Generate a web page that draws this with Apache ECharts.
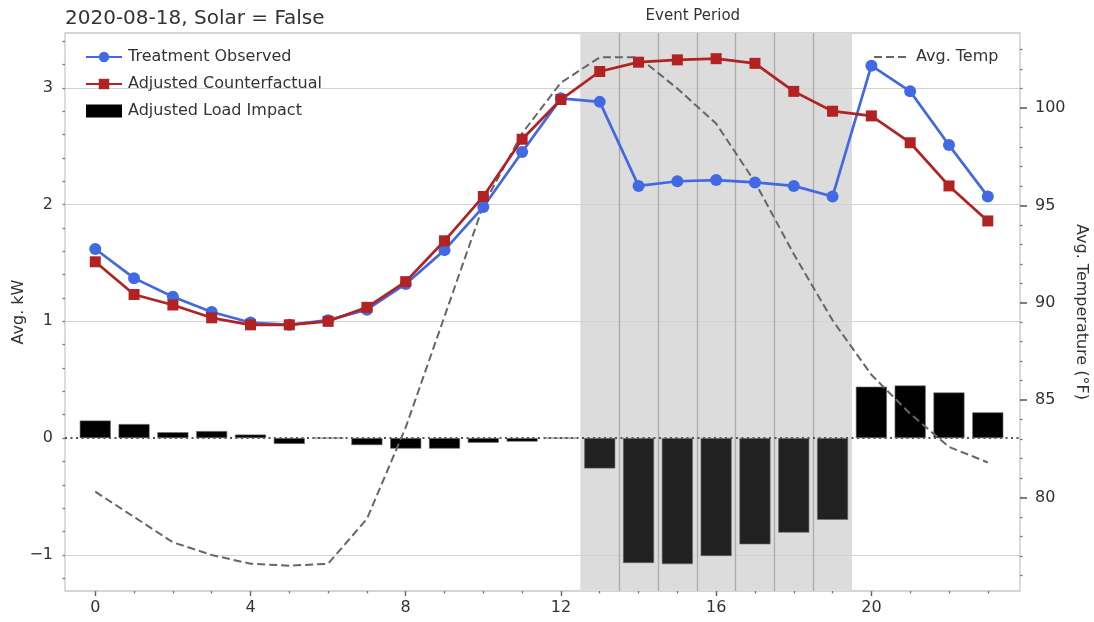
<!DOCTYPE html>
<html>
<head>
<meta charset="utf-8">
<script src="https://cdn.jsdelivr.net/npm/echarts@6.0.0/dist/echarts.min.js"></script>
<style>html,body{margin:0;padding:0;background:#fff;}#chart{width:1094px;height:622px;}</style>
</head>
<body>
<div id="chart"></div>
<script>
// ---- data ----
const hours = [0,1,2,3,4,5,6,7,8,9,10,11,12,13,14,15,16,17,18,19,20,21,22,23];
const observed = [1.62,1.37,1.21,1.08,0.99,0.97,1.01,1.10,1.32,1.61,1.98,2.45,2.91,2.88,2.16,2.20,2.21,2.19,2.16,2.07,3.19,2.97,2.51,2.07];
const counterfactual = [1.51,1.23,1.14,1.03,0.97,0.97,1.00,1.12,1.34,1.69,2.07,2.56,2.90,3.14,3.22,3.24,3.25,3.21,2.97,2.80,2.76,2.53,2.16,1.86];
const loadImpact = [0.15,0.12,0.05,0.06,0.03,-0.05,0.00,-0.06,-0.09,-0.09,-0.04,-0.03,0.00,-0.26,-1.07,-1.08,-1.01,-0.91,-0.81,-0.70,0.44,0.45,0.39,0.22];
const avgTemp = [80.3,79.0,77.7,77.05,76.6,76.5,76.6,78.9,83.6,89.3,95.0,98.7,101.3,102.6,102.6,101.0,99.2,96.2,92.5,89.1,86.3,84.3,82.6,81.8];
const xTickLabels = [0,4,8,12,16,20];
const xMinorTicks = [0,1,2,3,4,5,6,7,8,9,10,11,12,13,14,15,16,17,18,19,20,21,22,23];
const kwTicks = [-1,0,1,2,3];
const kwGridLines = [-1,1,2,3];
const kwMinorTicks = [-1.2,-1.0,-0.8,-0.6,-0.4,-0.2,0,0.2,0.4,0.6,0.8,1.0,1.2,1.4,1.6,1.8,2.0,2.2,2.4,2.6,2.8,3.0,3.2,3.4];
const tempTicks = [80,85,90,95,100];
const tempMinorTicks = [76,77,78,79,80,81,82,83,84,85,86,87,88,89,90,91,92,93,94,95,96,97,98,99,100,101,102,103];
const eventStart = 12.5, eventEnd = 19.5;
const eventDividers = [13.5,14.5,15.5,16.5,17.5,18.5];
const titleText = '2020-08-18, Solar = False';
const eventLabel = 'Event Period';
const eventLabelX = 15.4;

const FONT = 'DejaVu Sans';
const TXT = '#333';
const xMin = -0.78, xMax = 23.83;
const kwMin = -1.31, kwMax = 3.47;
const tMin = 75.2, tMax = 103.85;
const minus = v => String(v).replace('-', '\u2212');
const noLine = {show: false, onZero: false};

const chart = echarts.init(document.getElementById('chart'), null, {renderer:'canvas'});
const option = {
  animation: false,
  backgroundColor: '#fff',
  textStyle: {fontFamily: FONT},
  title: {text: titleText, left: 60, top: 4,
    textStyle: {fontFamily: FONT, fontSize: 20, fontWeight: 'normal', color: TXT}},
  grid: {left: 65, right: 74, top: 33, bottom: 31, show: true, borderColor: '#c8c8c8',
    borderWidth: 1.3, backgroundColor: 'transparent', containLabel: false, outerBoundsMode: 'none'},
  legend: [
    {data: [{name: 'Treatment Observed'}, {name: 'Adjusted Counterfactual'},
            {name: 'Adjusted Load Impact', icon: 'rect', itemStyle: {borderWidth: 0, color: '#000'}}],
     orient: 'vertical', left: 80, top: 44, itemWidth: 36, itemHeight: 13, itemGap: 11,
     selectedMode: false,
     textStyle: {fontSize: 16, color: TXT, fontFamily: FONT, padding: [0,0,0,1]}},
    {data: [{name: 'Avg. Temp'}], left: 868, top: 44, itemWidth: 34, itemHeight: 13,
     selectedMode: false, itemStyle: {opacity: 0},
     textStyle: {fontSize: 16, color: TXT, fontFamily: FONT, padding: [0,0,0,3]}}
  ],
  xAxis: [
    {type: 'value', min: xMin, max: xMax, position: 'bottom',
     axisLine: noLine, splitLine: {show: false},
     axisTick: {show: true, customValues: xTickLabels, length: 5, lineStyle: {color: '#555', width: 1.3}},
     axisLabel: {customValues: xTickLabels, fontSize: 16, color: TXT, margin: 9, fontFamily: FONT}},
    {type: 'value', min: xMin, max: xMax, position: 'bottom',
     axisLine: noLine, splitLine: {show: false}, axisLabel: {show: false},
     axisTick: {show: true, customValues: xMinorTicks, length: 2.5, lineStyle: {color: '#777', width: 1.3}}}
  ],
  yAxis: [
    {type: 'value', min: kwMin, max: kwMax, position: 'left',
     name: 'Avg. kW', nameLocation: 'middle', nameGap: 38, nameRotate: 90, nameMoveOverlap: false,
     nameTextStyle: {fontSize: 16, color: TXT, fontFamily: FONT},
     axisLine: noLine, splitLine: {show: false},
     axisTick: {show: true, customValues: kwMinorTicks, length: 2.5, lineStyle: {color: '#777', width: 1.3}},
     axisLabel: {customValues: kwTicks, formatter: minus, fontSize: 16, color: TXT, margin: 12, fontFamily: FONT}},
    {type: 'value', min: tMin, max: tMax, position: 'right',
     name: 'Avg. Temperature (°F)', nameLocation: 'middle', nameGap: 53, nameRotate: -90, nameMoveOverlap: false,
     nameTextStyle: {fontSize: 16, color: TXT, fontFamily: FONT},
     axisLine: noLine, splitLine: {show: false},
     axisTick: {show: true, customValues: tempTicks, length: 7, lineStyle: {color: '#555', width: 1.5}},
     axisLabel: {customValues: tempTicks, fontSize: 16, color: TXT, margin: 15, fontFamily: FONT}},
    {type: 'value', min: tMin, max: tMax, position: 'right',
     axisLine: noLine, splitLine: {show: false}, axisLabel: {show: false},
     axisTick: {show: true, customValues: tempMinorTicks, length: 2.5, lineStyle: {color: '#777', width: 1.3}}}
  ],
  series: [
    {name: '_frame', type: 'line', data: [], xAxisIndex: 0, yAxisIndex: 0, silent: true, z: 0,
     markArea: {silent: true, z: 0, itemStyle: {color: '#dcdcdc'},
       data: [[{xAxis: eventStart}, {xAxis: eventEnd}]]},
     markLine: {silent: true, z: 1, symbol: 'none', label: {show: false}, animation: false,
       lineStyle: {color: '#d2d2d2', width: 1.2, type: 'solid'},
       data: kwGridLines.map(v => ({yAxis: v}))
         .concat(eventDividers.map(v => ({xAxis: v, lineStyle: {color: '#ababab', width: 1.3, type: 'solid'}})))}},
    {name: 'Adjusted Load Impact', type: 'bar', xAxisIndex: 0, yAxisIndex: 0, z: 2,
     barWidth: 31,
     itemStyle: {color: '#000', borderColor: '#6a6a6a', borderWidth: 0.6},
     data: hours.map((h, i) => ({value: [h, loadImpact[i]],
       itemStyle: {color: (h > eventStart && h < eventEnd) ? '#212121' : '#000'}})),
     markLine: {silent: true, z: 3, symbol: 'none', label: {show: false}, animation: false,
       lineStyle: {color: '#555', width: 2.2, type: [2, 3.5]},
       data: [{yAxis: 0}]}},
    {name: 'Avg. Temp', type: 'line', xAxisIndex: 0, yAxisIndex: 1, z: 3,
     symbol: 'none', itemStyle: {color: '#666'},
     lineStyle: {color: '#666', width: 2, type: [8, 4]},
     data: hours.map((h, i) => [h, avgTemp[i]])},
    {name: 'Treatment Observed', type: 'line', xAxisIndex: 0, yAxisIndex: 0, z: 4,
     symbol: 'circle', symbolSize: 12,
     itemStyle: {color: '#4169e1'}, lineStyle: {color: '#4169e1', width: 2.7},
     data: hours.map((h, i) => [h, observed[i]])},
    {name: 'Adjusted Counterfactual', type: 'line', xAxisIndex: 0, yAxisIndex: 0, z: 5,
     symbol: 'rect', symbolSize: 11,
     itemStyle: {color: '#b22222'}, lineStyle: {color: '#b22222', width: 2.7},
     data: hours.map((h, i) => [h, counterfactual[i]])}
  ]
};
chart.setOption(option);
const ex = chart.convertToPixel({xAxisIndex: 0}, eventLabelX);
chart.setOption({graphic: [{type: 'text', x: ex, y: 16,
  style: {text: eventLabel, fontSize: 15, fontFamily: FONT, fill: TXT, align: 'center', verticalAlign: 'middle'}}]});
</script>
</body>
</html>
